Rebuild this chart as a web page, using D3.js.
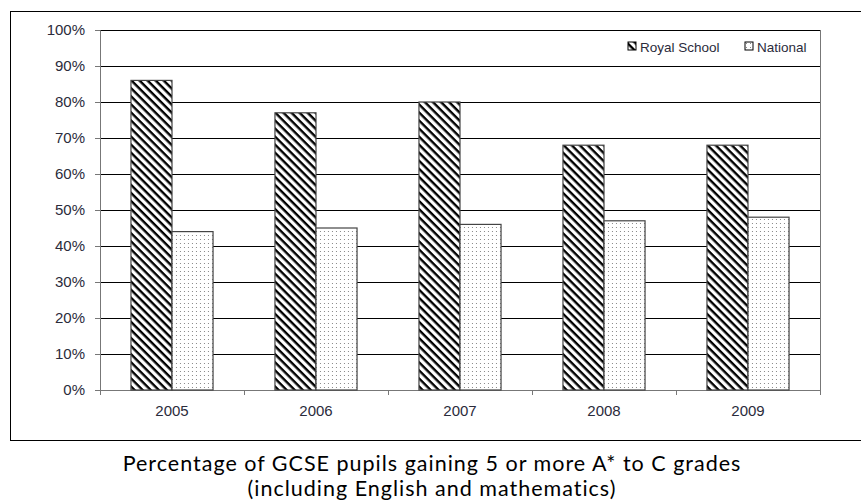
<!DOCTYPE html>
<html>
<head>
<meta charset="utf-8">
<script src="https://cdn.jsdelivr.net/npm/d3@7"></script>
<style>
  body { margin: 0; background: #fff; }
  svg text { font-family: "Liberation Sans", Arial, sans-serif; }
</style>
</head>
<body>
<script>
const years = ['2005', '2006', '2007', '2008', '2009'];
const royal = [86, 77, 80, 68, 68];
const national = [44, 45, 46, 47, 48];
const seriesNames = ['Royal School', 'National'];
const yTicks = [0, 10, 20, 30, 40, 50, 60, 70, 80, 90, 100];
const captionLines = [
  'Percentage of GCSE pupils gaining 5 or more A* to C grades',
  '(including English and mathematics)'
];

// plot area inside the boxed frame
const margin = {top: 30, right: 41, bottom: 113, left: 100};
const W = 861, H = 503;
const width = W - margin.left - margin.right;
const height = H - margin.top - margin.bottom;

const svg = d3.select('body').append('svg')
  .attr('width', W)
  .attr('height', H);

// patterns for the two series
const defs = svg.append('defs');
const hatch = defs.append('pattern')
  .attr('id', 'hatch')
  .attr('patternUnits', 'userSpaceOnUse')
  .attr('width', 5.7).attr('height', 5.7)
  .attr('patternTransform', 'rotate(45)');
hatch.append('rect').attr('width', 5.7).attr('height', 5.7).attr('fill', '#fff');
hatch.append('rect').attr('width', 5.7).attr('height', 2.4).attr('fill', '#000');

const dots = defs.append('pattern')
  .attr('id', 'dots')
  .attr('patternUnits', 'userSpaceOnUse')
  .attr('width', 4).attr('height', 4);
dots.append('rect').attr('width', 4).attr('height', 4).attr('fill', '#fff');
dots.append('rect').attr('x', 1).attr('y', 1).attr('width', 1).attr('height', 1).attr('fill', '#888');

const fills = ['url(#hatch)', 'url(#dots)'];

// outer frame
svg.append('rect')
  .attr('x', 10.5).attr('y', 11.5)
  .attr('width', 870).attr('height', 429)
  .attr('fill', 'none')
  .attr('stroke', '#000');

const g = svg.append('g')
  .attr('transform', `translate(${margin.left},${margin.top})`);

const x = d3.scaleBand().domain(years).range([0, width]).paddingInner(0.43).paddingOuter(0.215);
const xSub = d3.scaleBand().domain(seriesNames).range([0, x.bandwidth()]);
const y = d3.scaleLinear().domain([0, 100]).range([height, 0]);

// gridlines
g.selectAll('.grid')
  .data(yTicks.slice(1))
  .enter().append('line')
  .attr('x1', 0).attr('x2', width)
  .attr('y1', (d) => Math.round(y(d)) + 0.5)
  .attr('y2', (d) => Math.round(y(d)) + 0.5)
  .attr('stroke', '#000');

// plot area right border
g.append('line')
  .attr('x1', width + 0.5).attr('x2', width + 0.5)
  .attr('y1', 0).attr('y2', height)
  .attr('stroke', '#777');

const labelColor = '#2b2b3b';

// y axis
const yAxis = g.append('g')
  .call(d3.axisLeft(y).tickValues(yTicks).tickFormat((d) => d + '%').tickSize(5).tickPadding(10));
yAxis.select('.domain').attr('stroke', '#777');
yAxis.selectAll('.tick line').attr('stroke', '#777');
yAxis.selectAll('text').attr('font-size', 15).attr('fill', labelColor);

// x axis, ticks between the groups
const xAxis = g.append('g')
  .attr('transform', `translate(0,${height})`);
xAxis.append('line')
  .attr('x1', 0).attr('x2', width).attr('y1', 0.5).attr('y2', 0.5)
  .attr('stroke', '#777');
const step = width / years.length;
xAxis.selectAll('.xtick')
  .data(d3.range(years.length + 1))
  .enter().append('line')
  .attr('x1', (i) => i * step + 0.5).attr('x2', (i) => i * step + 0.5)
  .attr('y1', 0).attr('y2', 5)
  .attr('stroke', '#777');
xAxis.selectAll('.xlabel')
  .data(years)
  .enter().append('text')
  .attr('x', (d) => x(d) + x.bandwidth() / 2)
  .attr('y', 26)
  .attr('text-anchor', 'middle')
  .attr('font-size', 15)
  .attr('fill', labelColor)
  .text((d) => d);

// bars
const groups = g.selectAll('.year')
  .data(years)
  .enter().append('g')
  .attr('transform', (d) => `translate(${x(d)},0)`);

groups.selectAll('rect')
  .data((d, i) => [royal[i], national[i]].map((v, k) => ({key: seriesNames[k], value: v, k})))
  .enter().append('rect')
  .attr('x', (d) => xSub(d.key))
  .attr('y', (d) => y(d.value))
  .attr('width', xSub.bandwidth())
  .attr('height', (d) => height - y(d.value))
  .attr('fill', (d) => fills[d.k])
  .attr('stroke', '#444')
  .attr('stroke-width', 1.2);

// legend
const legendX = [628, 745];
const legend = svg.selectAll('.legend')
  .data(seriesNames)
  .enter().append('g')
  .attr('transform', (d, i) => `translate(${legendX[i]},42)`);
legend.append('rect')
  .attr('width', 8).attr('height', 8)
  .attr('fill', (d, i) => fills[i])
  .attr('stroke', '#000');
legend.append('text')
  .attr('x', 12).attr('y', 9.5)
  .attr('font-size', 13.5)
  .attr('fill', labelColor)
  .text((d) => d);

// caption below the frame
svg.selectAll('.caption')
  .data(captionLines)
  .enter().append('text')
  .attr('x', 432)
  .attr('y', (d, i) => 471 + i * 25)
  .attr('text-anchor', 'middle')
  .attr('font-size', 21.5)
  .attr('letter-spacing', 1)
  .attr('fill', '#000')
  .style('font-family', 'Lato, "Open Sans", sans-serif')
  .text((d) => d);
</script>
</body>
</html>
